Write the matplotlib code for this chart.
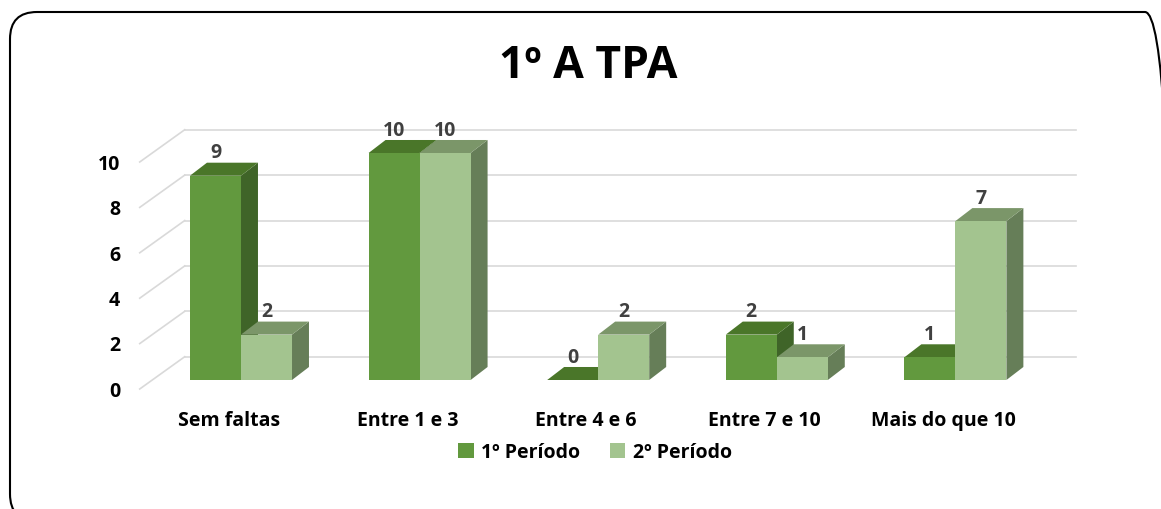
import matplotlib.pyplot as plt
from matplotlib.patches import Polygon, Rectangle, FancyBboxPatch, Patch
from matplotlib.transforms import IdentityTransform

# --- data ---
categories = ['Sem faltas', 'Entre 1 e 3', 'Entre 4 e 6', 'Entre 7 e 10', 'Mais do que 10']
periodo_1 = [9, 10, 0, 2, 1]
periodo_2 = [2, 10, 2, 1, 7]
series_names = ['1º Período', '2º Período']
y_ticks = [0, 2, 4, 6, 8, 10]
title = '1º A TPA'

# --- style ---
W, H = 1161, 510
FONT = ['Open Sans', 'DejaVu Sans']
front_cols = ['#62993E', '#A3C48F']
top_cols = ['#4A7629', '#7B9669']
side_cols = ['#3F6428', '#667E58']
grid_col = '#D9D9D9'

# pseudo-3D offsets (category units / value units)
BAR_W = 0.2856
DX_BAR, DY_BAR = 0.095, 0.573
DX_WALL, DY_WALL = 0.185, 1.026
DX_FRONT, DY_FRONT = -0.067, -0.396
X_LEFT, X_RIGHT = -0.5, 4.49

plt.rcParams['font.family'] = FONT
fig = plt.figure(figsize=(W / 100, H / 100), dpi=100)
ax = fig.add_axes([0, 0, 1, 1])
ax.set_xlim((0 - 241) / 178.6, (W - 241) / 178.6)
ax.set_ylim((381 - H) / 22.7, 381 / 22.7)
ax.axis('off')

# walls: back gridlines + left side lines
for v in y_ticks:
    ax.plot([X_LEFT + DX_FRONT, X_LEFT + DX_WALL], [v + DY_FRONT, v + DY_WALL],
            color=grid_col, lw=1.2, zorder=1)
    ax.plot([X_LEFT + DX_WALL, X_RIGHT + DX_WALL], [v + DY_WALL, v + DY_WALL],
            color=grid_col, lw=1.2, zorder=1)
    ax.text(X_LEFT + DX_FRONT - 0.11, v + DY_FRONT - 0.08, str(v), ha='right', va='center',
            fontsize=14, fontweight='bold', color='black')


def draw_bar(x0, h, k, z):
    x1 = x0 + BAR_W
    ax.add_patch(Polygon([(x1, 0), (x1 + DX_BAR, DY_BAR), (x1 + DX_BAR, h + DY_BAR), (x1, h)],
                         closed=True, facecolor=side_cols[k], edgecolor='none', zorder=z))
    ax.add_patch(Polygon([(x0, h), (x1, h), (x1 + DX_BAR, h + DY_BAR), (x0 + DX_BAR, h + DY_BAR)],
                         closed=True, facecolor=top_cols[k], edgecolor='none', zorder=z))
    if h > 0:
        ax.add_patch(Rectangle((x0, 0), BAR_W, h, facecolor=front_cols[k],
                               edgecolor='none', zorder=z + 0.5))
    ax.text((x0 + x1) / 2, h + DY_BAR + 0.45, str(h), ha='center', va='center',
            fontsize=14, fontweight='bold', color='#404040', zorder=20)


for i, cat in enumerate(categories):
    draw_bar(i - BAR_W, periodo_1[i], 0, 3 + i * 2)
    draw_bar(i, periodo_2[i], 1, 4 + i * 2)
    ax.text(i + DX_FRONT, -1.76, cat, ha='center', va='center',
            fontsize=14, fontweight='bold', color='black')

# title
fig.text(588 / W, 1 - 66 / H, title, ha='center', va='center',
         fontsize=32, fontweight='bold', color='black')

# legend
handles = [Patch(facecolor=front_cols[k], edgecolor='none', label=series_names[k]) for k in range(2)]
fig.legend(handles=handles, loc='center', bbox_to_anchor=(595 / W, 1 - 453 / H), ncol=2,
           frameon=False, prop={'family': FONT, 'weight': 'bold', 'size': 14},
           handlelength=0.8, handleheight=0.8, handletextpad=0.4, columnspacing=1.5)

# chart border (rounded, runs off right/bottom edge)
border = FancyBboxPatch((10, -12), 1162, 509, boxstyle='round,pad=0,rounding_size=27',
                        facecolor='none', edgecolor='black', lw=1.5)
border.set_transform(IdentityTransform())
fig.add_artist(border)

fig.savefig('out.png', dpi=100)
